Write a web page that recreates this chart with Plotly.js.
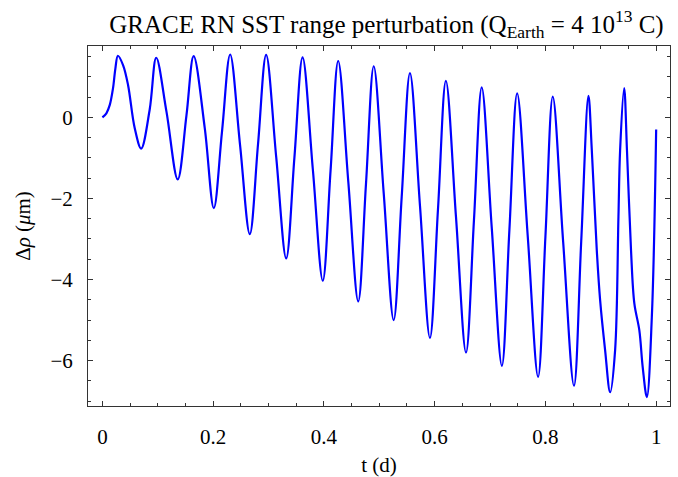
<!DOCTYPE html>
<html>
<head>
<meta charset="utf-8">
<script src="https://cdn.plot.ly/plotly-3.0.1.min.js"></script>
<style>html,body{margin:0;padding:0;background:#fff;}#plot{width:678px;height:477px;}</style>
</head>
<body>
<div id="plot"></div>
<script>
// time (days)
var tDays = [0, 0.0072, 0.0132, 0.0192, 0.0235, 0.028, 0.0373, 0.0463, 0.0584, 0.070, 0.0855, 0.0972, 0.1157,
  0.136, 0.1518, 0.1648, 0.1849, 0.2012, 0.216, 0.2307, 0.2485, 0.2662, 0.281,
  0.2957, 0.3138, 0.3319, 0.3467, 0.3615, 0.380, 0.398, 0.412, 0.4258, 0.444,
  0.462, 0.476, 0.490, 0.508, 0.526, 0.5405, 0.5554, 0.5735, 0.5915, 0.606,
  0.6203, 0.6385, 0.6566, 0.671, 0.685, 0.703, 0.7214, 0.735, 0.749, 0.768,
  0.7868, 0.800, 0.8133, 0.832, 0.8516, 0.8647, 0.8777, 0.8838, 0.8928, 0.8988,
  0.9078, 0.9169, 0.9259, 0.9319, 0.9349, 0.9422, 0.9473, 0.9546, 0.9606, 0.9696,
  0.9757, 0.9832, 0.9922, 1.0];
// range perturbation (micrometres)
var dRho = [0, 0.10, 0.30, 0.72, 1.21, 1.52, 1.29, 0.80, -0.27, -0.77, 0.20, 1.47, 0.14,
  -1.53, 0.05, 1.51, -0.27, -2.24, -0.35, 1.55, -0.67, -2.88, -0.67,
  1.54, -0.97, -3.48, -1.00, 1.48, -1.28, -4.03, -1.32, 1.39, -1.58,
  -4.54, -1.64, 1.26, -1.87, -5.00, -1.96, 1.09, -2.18, -5.44, -2.27,
  0.90, -2.45, -5.80, -2.53, 0.74, -2.70, -6.13, -2.77, 0.59, -2.91,
  -6.40, -2.95, 0.51, -3.06, -6.62, -3.05, 0.53, -0.81, -3.28, -4.51,
  -5.74, -6.78, -5.74, -2.45, -0.81, 0.72, -0.81, -3.28, -4.59, -5.25,
  -6.16, -6.90, -4.92, -0.30];

var xTickVals = [0, 0.2, 0.4, 0.6, 0.8, 1];
var xTickText = ['0', '0.2', '0.4', '0.6', '0.8', '1'];
var yTickVals = [-6, -4, -2, 0];
var yTickText = ['\u22126', '\u22124', '\u22122', '0'];

var serif = 'Liberation Serif, Times New Roman, serif';
var frameColor = '#333333';

var trace = {
  x: tDays, y: dRho, type: 'scatter', mode: 'lines',
  line: {color: '#0000ff', width: 2.2, shape: 'spline', smoothing: 1},
  hoverinfo: 'skip'
};

var axisCommon = {
  showgrid: false, zeroline: false, showline: true, linecolor: frameColor, linewidth: 1,
  mirror: 'ticks', ticks: 'inside', ticklen: 5, tickwidth: 1, tickcolor: frameColor,
  tickfont: {family: serif, size: 21, color: '#000'}
};

var layout = {
  width: 678, height: 477,
  margin: {l: 88, r: 8, t: 46, b: 71},
  paper_bgcolor: '#fff', plot_bgcolor: '#fff',
  showlegend: false,
  font: {family: serif, color: '#000'},
  title: {
    text: 'GRACE RN SST range perturbation (Q<sub>Earth</sub> = 4 10<sup>13</sup> C)',
    font: {family: serif, size: 25, color: '#000'},
    xref: 'container', x: 0.57, xanchor: 'center',
    yref: 'container', y: 0.95, yanchor: 'middle'
  },
  xaxis: Object.assign({}, axisCommon, {
    range: [-0.026, 1.025],
    tickmode: 'array', tickvals: xTickVals, ticktext: xTickText,
    ticklabelstandoff: 12,
    minor: {dtick: 0.05, tick0: 0, ticks: 'inside', ticklen: 3, tickcolor: frameColor, showgrid: false},
    title: {text: 't (d)', font: {family: serif, size: 21, color: '#000'}, standoff: 9}
  }),
  yaxis: Object.assign({}, axisCommon, {
    range: [-7.12, 1.76],
    tickmode: 'array', tickvals: yTickVals, ticktext: yTickText,
    ticklabelstandoff: 10,
    minor: {dtick: 0.5, tick0: 0, ticks: 'inside', ticklen: 3, tickcolor: frameColor, showgrid: false},
    title: {text: '\u0394<i>\u03c1</i> (<i>\u03bc</i>m)', font: {family: serif, size: 21, color: '#000'}, standoff: 14}
  })
};

Plotly.newPlot('plot', [trace], layout, {staticPlot: true, displayModeBar: false});
</script>
</body>
</html>
